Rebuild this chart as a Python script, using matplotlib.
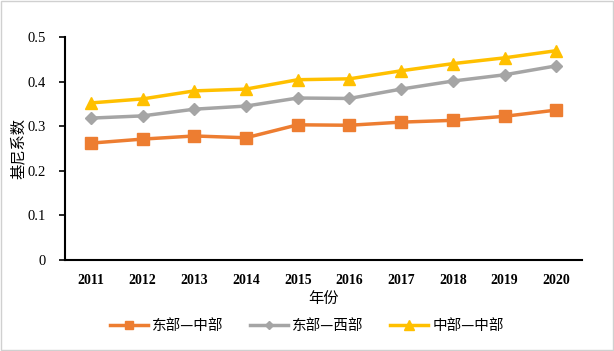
import matplotlib
matplotlib.use("Agg")
import matplotlib.pyplot as plt
from matplotlib.patches import Rectangle

years = ["2011", "2012", "2013", "2014", "2015", "2016", "2017", "2018", "2019", "2020"]
east_central = [0.262, 0.271, 0.278, 0.274, 0.303, 0.302, 0.309, 0.313, 0.322, 0.336]
east_west = [0.318, 0.323, 0.338, 0.345, 0.363, 0.362, 0.383, 0.401, 0.415, 0.435]
central_central = [0.352, 0.361, 0.379, 0.383, 0.404, 0.406, 0.424, 0.440, 0.453, 0.469]
labels = ["东部—中部", "东部—西部", "中部—中部"]
yticks = [0, 0.1, 0.2, 0.3, 0.4, 0.5]
ytick_labels = ["0", "0.1", "0.2", "0.3", "0.4", "0.5"]

cjk = ["Noto Sans CJK SC", "DejaVu Sans"]
serif = ["Liberation Serif", "DejaVu Serif"]

fig = plt.figure(figsize=(6.14, 3.51), dpi=100)
ax = fig.add_axes([0.106, 0.259, 0.842, 0.636])
x = list(range(len(years)))
ax.plot(x, east_central, color="#ED7D31", lw=2.5, marker="s", ms=8, label=labels[0])
ax.plot(x, east_west, color="#A5A5A5", lw=2.5, marker="D", ms=6, label=labels[1])
ax.plot(x, central_central, color="#FFC000", lw=2.5, marker="^", ms=9, label=labels[2])

ax.set_xlim(-0.5, len(years) - 0.5)
ax.set_ylim(0, 0.5)
ax.set_xticks(x)
ax.set_xticklabels(years, fontfamily=serif, fontweight="bold", fontsize=10)
ax.set_yticks(yticks)
ax.set_yticklabels(ytick_labels, fontfamily=serif, fontsize=10.5)
ax.tick_params(axis="x", length=0, pad=10)
ax.tick_params(axis="y", length=4, width=1.2, direction="out", pad=10)
for s in ["top", "right"]:
    ax.spines[s].set_visible(False)
ax.spines["left"].set_linewidth(1.5)
ax.spines["bottom"].set_linewidth(1.5)
ax.set_xlabel("年份", fontfamily=cjk, fontsize=11, labelpad=2)
ax.set_ylabel("基尼系数", fontfamily=cjk, fontsize=11)
ax.yaxis.set_label_coords(-0.075, 0.5)

leg = fig.legend(loc="center", bbox_to_anchor=(0.5, 0.072), ncol=3, frameon=False,
                 prop={"family": cjk, "size": 10.5}, handlelength=2.6, columnspacing=1.8,
                 handletextpad=0.3, markerscale=0.75)
fig.patches.append(Rectangle((0.002, 0.003), 0.996, 0.994, transform=fig.transFigure,
                             fill=False, edgecolor="#D0D0D0", lw=1))
fig.savefig("out.png", dpi=100)
